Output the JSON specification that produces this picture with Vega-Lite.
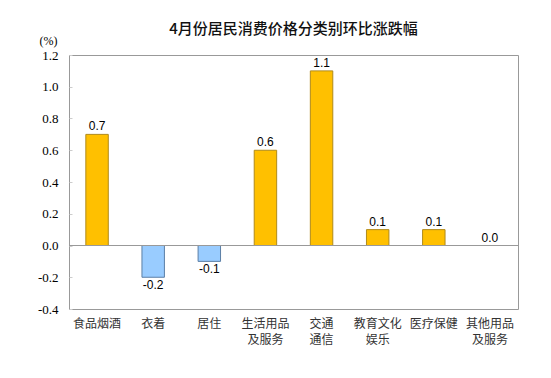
{
  "$schema": "https://vega.github.io/schema/vega-lite/v6.json",
  "autosize": {"type": "none"},
  "padding": {"left": 69, "top": 55, "right": 33, "bottom": 69},
  "width": 449,
  "height": 254,
  "background": "white",
  "title": {
    "text": "4月份居民消费价格分类别环比涨跌幅",
    "font": "Noto Sans CJK SC",
    "fontSize": 15,
    "fontWeight": 500,
    "color": "#111111",
    "anchor": "middle",
    "offset": 0,
    "dy": 3
  },
  "config": {
    "view": {"stroke": "#999999", "strokeWidth": 1},
    "locale": {"number": {"decimal": ".", "thousands": ",", "grouping": [3], "currency": ["", ""], "minus": "-"}}
  },
  "data": {
    "values": [
      {"category": "食品烟酒", "value": 0.7},
      {"category": "衣着", "value": -0.2},
      {"category": "居住", "value": -0.1},
      {"category": "生活用品及服务", "value": 0.6},
      {"category": "交通通信", "value": 1.1},
      {"category": "教育文化娱乐", "value": 0.1},
      {"category": "医疗保健", "value": 0.1},
      {"category": "其他用品及服务", "value": 0.0}
    ]
  },
  "encoding": {
    "x": {
      "field": "category",
      "type": "nominal",
      "sort": null,
      "scale": {"paddingInner": 0.6, "paddingOuter": 0.3},
      "axis": {
        "title": null,
        "labelAngle": 0,
        "ticks": false,
        "domain": false,
        "labelPadding": 9,
        "labelFont": "Noto Sans CJK SC",
        "labelFontSize": 12,
        "labelColor": "#333333",
        "labelLineHeight": 16,
        "labelExpr": "datum.label == '交通通信' ? ['交通', '通信'] : (length(datum.label) > 4 ? [substring(datum.label, 0, 4), substring(datum.label, 4)] : datum.label)"
      }
    },
    "y": {
      "field": "value",
      "type": "quantitative",
      "scale": {"domain": [-0.4, 1.2], "nice": false, "zero": false},
      "axis": {
        "values": [-0.4, -0.2, 0, 0.2, 0.4, 0.6, 0.8, 1.0, 1.2],
        "format": ".1f",
        "labelOverlap": false,
        "grid": false,
        "domain": false,
        "tickColor": "#cccccc",
        "tickSize": -3,
        "labelPadding": 14,
        "labelFont": "Liberation Serif",
        "labelFontSize": 13,
        "labelColor": "#000000",
        "title": "(%)",
        "titleAngle": 0,
        "titleFont": "Liberation Serif",
        "titleFontSize": 12,
        "titleFontWeight": "normal",
        "titleColor": "#000000",
        "titleX": -21,
        "titleY": -15,
        "titleAlign": "center",
        "titleBaseline": "middle"
      }
    }
  },
  "layer": [
    {
      "mark": {"type": "bar", "strokeWidth": 1},
      "encoding": {
        "color": {
          "condition": {"test": "datum.value < 0", "value": "#99CCFF"},
          "value": "#FFC000"
        },
        "stroke": {
          "condition": {"test": "datum.value < 0", "value": "#5B7FA6"},
          "value": "#B08A1A"
        }
      }
    },
    {
      "mark": {"type": "rule", "color": "#999999", "strokeWidth": 1},
      "encoding": {"x": {"value": 0}, "x2": {"value": 449}, "y": {"datum": 0, "type": "quantitative"}}
    },
    {
      "transform": [{"filter": "datum.value >= 0"}],
      "mark": {"type": "text", "baseline": "bottom", "dy": -1, "font": "Liberation Sans", "fontSize": 12, "color": "#000000"},
      "encoding": {
        "text": {"field": "value", "type": "quantitative", "format": ".1f"}
      }
    },
    {
      "transform": [{"filter": "datum.value < 0"}],
      "mark": {"type": "text", "baseline": "top", "dy": 3, "font": "Liberation Sans", "fontSize": 12, "color": "#000000"},
      "encoding": {
        "text": {"field": "value", "type": "quantitative", "format": ".1f"}
      }
    }
  ]
}
